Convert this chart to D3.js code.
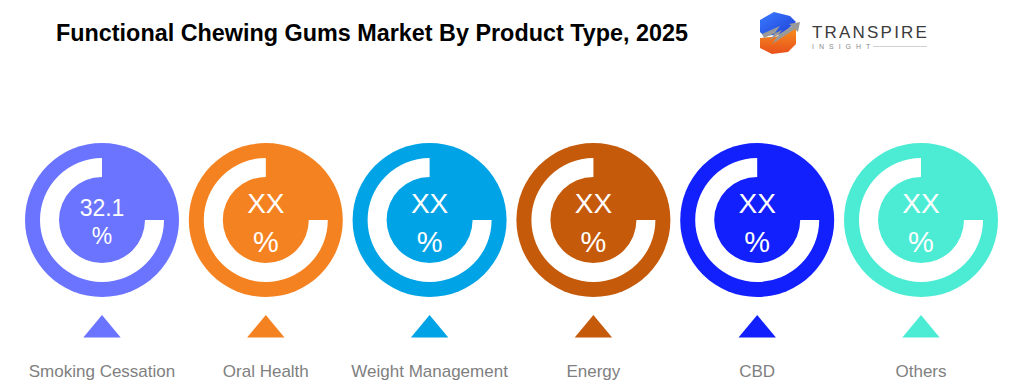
<!DOCTYPE html>
<html>
<head>
<meta charset="utf-8">
<script src="https://cdn.jsdelivr.net/npm/d3@7"></script>
<style>
  html, body { margin: 0; padding: 0; background: #fff; }
  svg { display: block; }
</style>
</head>
<body>
<div id="chart"></div>
<script>
// chart data
var categories = ["Smoking Cessation", "Oral Health", "Weight Management", "Energy", "CBD", "Others"];
var valueLabels = ["32.1", "XX", "XX", "XX", "XX", "XX"];
var colors = ["#6b74ff", "#f58220", "#00a3e6", "#c55a0a", "#1120fc", "#4cecd4"];
var ringShare = 0.75; // portion of the ring drawn (3 o'clock round to 12 o'clock)

var width = 1023, height = 392;

var svg = d3.select("#chart").append("svg")
  .attr("width", width)
  .attr("height", height);

// title
svg.append("text")
  .attr("x", 56)
  .attr("y", 41)
  .attr("textLength", 632)
  .attr("lengthAdjust", "spacingAndGlyphs")
  .style("font-family", "'Liberation Sans Narrow', 'Arial Narrow', 'Liberation Sans', sans-serif")
  .style("font-weight", "bold")
  .style("font-size", "23px")
  .style("fill", "#000")
  .text("Functional Chewing Gums Market By Product Type, 2025");

// logo
var logo = svg.append("g").attr("transform", "translate(760,12)");
var defs = svg.append("defs");
var gBlue = defs.append("linearGradient").attr("id", "lgBlue").attr("x1", 0).attr("y1", 0).attr("x2", 1).attr("y2", 1);
gBlue.append("stop").attr("offset", "0%").attr("stop-color", "#3a7bff");
gBlue.append("stop").attr("offset", "100%").attr("stop-color", "#1d3fd6");
var gOr = defs.append("linearGradient").attr("id", "lgOr").attr("x1", 0).attr("y1", 0).attr("x2", 0).attr("y2", 1);
gOr.append("stop").attr("offset", "0%").attr("stop-color", "#f7931e");
gOr.append("stop").attr("offset", "100%").attr("stop-color", "#e8501c");
logo.append("path")
  .attr("d", "M14,0 L30,4 L36,10 L22,22 L4,24 L0,20 L0,8 Z")
  .attr("fill", "url(#lgBlue)");
logo.append("path")
  .attr("d", "M0,26 L22,24 L36,14 L36,32 L28,40 L12,42 L0,36 Z")
  .attr("fill", "url(#lgOr)");
logo.append("path")
  .attr("d", "M2,22 L20,14 L10,28 L32,14 L29,12 L40,10 L38,20 L35,17 L12,32 L22,18 L4,26 Z")
  .attr("fill", "#9a9a9a");
logo.append("text")
  .attr("x", 52)
  .attr("y", 26)
  .style("font-family", "'Liberation Sans', Arial, sans-serif")
  .style("font-size", "17px")
  .style("letter-spacing", "2.2px")
  .style("fill", "#3b3b3b")
  .text("TRANSPIRE");
logo.append("text")
  .attr("x", 52)
  .attr("y", 37)
  .style("font-family", "'Liberation Sans', Arial, sans-serif")
  .style("font-size", "7px")
  .style("letter-spacing", "5px")
  .style("fill", "#8a8a8a")
  .text("INSIGHT");
logo.append("line")
  .attr("x1", 113).attr("x2", 167)
  .attr("y1", 34.5).attr("y2", 34.5)
  .attr("stroke", "#d0d0d0")
  .attr("stroke-width", 1);

// layout scales
var x = d3.scalePoint()
  .domain(categories)
  .range([102, 921]);

var circleR = 77;
var ringArc = d3.arc()
  .innerRadius(43)
  .outerRadius(62)
  .startAngle(2 * Math.PI * (1 - ringShare))
  .endAngle(2 * Math.PI);

var items = svg.append("g")
  .selectAll("g")
  .data(categories)
  .enter().append("g")
  .attr("transform", function(d) { return "translate(" + x(d) + ",0)"; });

items.append("circle")
  .attr("cx", 0)
  .attr("cy", 220)
  .attr("r", circleR)
  .attr("fill", function(d, i) { return colors[i]; });

items.append("path")
  .attr("transform", "translate(0,220)")
  .attr("d", ringArc())
  .attr("fill", "#fff");

// value text
items.each(function(d, i) {
  var g = d3.select(this);
  var small = valueLabels[i].length > 2;
  var fs = small ? 23 : 28;
  var y1 = small ? 216 : 213;
  var y2 = small ? 244 : 252;
  g.append("text")
    .attr("x", 0).attr("y", y1)
    .attr("text-anchor", "middle")
    .style("font-family", "'Liberation Sans', Arial, sans-serif")
    .style("font-size", fs + "px")
    .style("fill", "#fff")
    .text(valueLabels[i]);
  g.append("text")
    .attr("x", 0).attr("y", y2)
    .attr("text-anchor", "middle")
    .style("font-family", "'Liberation Sans', Arial, sans-serif")
    .style("font-size", (small ? 23 : 29) + "px")
    .style("fill", "#fff")
    .text("%");
});

// triangles
items.append("path")
  .attr("d", "M0,315 L18.7,337.5 L-18.7,337.5 Z")
  .attr("fill", function(d, i) { return colors[i]; });

// category labels
items.append("text")
  .attr("x", 0)
  .attr("y", 377)
  .attr("text-anchor", "middle")
  .style("font-family", "'Liberation Sans', Arial, sans-serif")
  .style("font-size", "17px")
  .style("fill", "#7f7f7f")
  .text(function(d) { return d; });
</script>
</body>
</html>
